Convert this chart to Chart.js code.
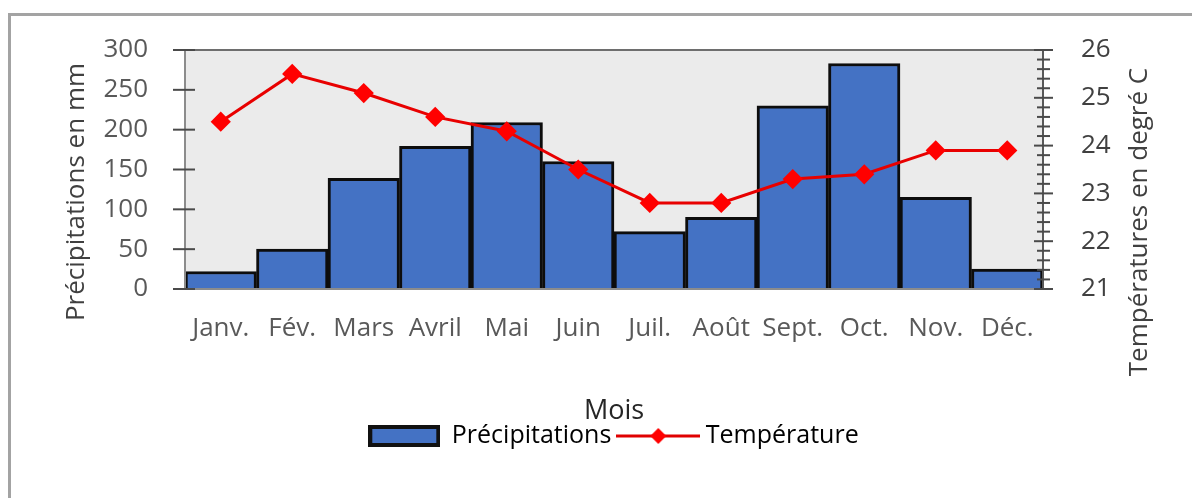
<!DOCTYPE html>
<html>
<head>
<meta charset="utf-8">
<script src="https://cdn.jsdelivr.net/npm/chart.js@4.4.1/dist/chart.umd.min.js"></script>
<style>
  body { margin: 0; background: #fff; overflow: hidden; }
  #wrap { position: relative; width: 1192px; height: 498px; }
  #frame { position: absolute; left: 8px; top: 13px; width: 1200px; height: 500px; border: 3px solid #a3a3a3; }
  #graph { position: absolute; left: 0; top: 0; }
</style>
</head>
<body>
<div id="wrap">
  <div id="frame"></div>
  <canvas id="graph" width="1192" height="498"></canvas>
</div>
<script>
const mois = ['Janv.', 'Fév.', 'Mars', 'Avril', 'Mai', 'Juin', 'Juil.', 'Août', 'Sept.', 'Oct.', 'Nov.', 'Déc.'];
const precipitations = [22, 50, 139, 179, 209, 160, 72, 90, 230, 283, 115, 25];
const temperatures = [24.5, 25.5, 25.1, 24.6, 24.3, 23.5, 22.8, 22.8, 23.3, 23.4, 23.9, 23.9];

const bleu = '#4472c4';
const rouge = '#ff0000';

// petites images pour la légende
function iconeBarre() {
    const c = document.createElement('canvas');
    c.width = 72; c.height = 22;
    const g = c.getContext('2d');
    g.fillStyle = bleu;
    g.fillRect(2, 2, 68, 18);
    g.strokeStyle = '#111';
    g.lineWidth = 4;
    g.strokeRect(2, 2, 68, 18);
    return c;
}
function iconeLigne() {
    const c = document.createElement('canvas');
    c.width = 84; c.height = 18;
    const g = c.getContext('2d');
    g.strokeStyle = '#e00000';
    g.lineWidth = 3;
    g.beginPath(); g.moveTo(0, 9); g.lineTo(84, 9); g.stroke();
    g.fillStyle = rouge;
    g.beginPath(); g.moveTo(42, 1); g.lineTo(50, 9); g.lineTo(42, 17); g.lineTo(34, 9); g.closePath(); g.fill();
    return c;
}

// fond gris, cadre, graduations et titres verticaux
const decor = {
    id: 'decor',
    beforeDatasetsDraw(chart) {
        const {ctx, chartArea: a} = chart;
        ctx.save();
        ctx.fillStyle = '#ebebeb';
        ctx.fillRect(a.left, a.top, a.right - a.left, a.bottom - a.top);
        ctx.restore();
    },
    afterDatasetsDraw(chart) {
        const {ctx, chartArea: a, scales} = chart;
        const y = scales.y, y1 = scales.y1;
        ctx.save();
        ctx.lineWidth = 2;
        ctx.strokeStyle = '#6e6e6e';
        ctx.beginPath(); ctx.moveTo(a.left - 12, a.top); ctx.lineTo(a.right + 10, a.top); ctx.stroke();
        ctx.strokeStyle = '#8c8c8c';
        ctx.beginPath(); ctx.moveTo(a.left - 12, a.bottom); ctx.lineTo(a.right + 10, a.bottom); ctx.stroke();
        ctx.beginPath(); ctx.moveTo(a.left, a.top); ctx.lineTo(a.left, a.bottom); ctx.stroke();
        ctx.strokeStyle = '#595959';
        ctx.beginPath(); ctx.moveTo(a.right, a.top); ctx.lineTo(a.right, a.bottom); ctx.stroke();

        ctx.strokeStyle = '#4a4a4a';
        y.ticks.forEach(t => {
            const py = y.getPixelForValue(t.value);
            ctx.beginPath(); ctx.moveTo(a.left - 12, py); ctx.lineTo(a.left + 10, py); ctx.stroke();
        });
        for (let i = 0; i <= 25; i++) {
            const v = y1.min + i * 0.2;
            const py = y1.getPixelForValue(v);
            const major = i % 5 === 0;
            ctx.beginPath();
            ctx.moveTo(a.right - (major ? 9 : 6), py);
            ctx.lineTo(a.right + (major ? 10 : 7), py);
            ctx.stroke();
        }

        ctx.fillStyle = '#404040';
        ctx.font = "26px 'Open Sans', sans-serif";
        ctx.textAlign = 'center';
        ctx.textBaseline = 'middle';
        ctx.translate(77, 192);
        ctx.rotate(-Math.PI / 2);
        ctx.fillText('Précipitations en mm', 0, 0);
        ctx.setTransform(1, 0, 0, 1, 0, 0);
        ctx.translate(1140, 222);
        ctx.rotate(-Math.PI / 2);
        ctx.fillText('Températures en degré C', 0, 0);
        ctx.restore();
    }
};

Chart.defaults.font.family = "'Open Sans', sans-serif";
Chart.defaults.color = '#595959';

const ctx = document.getElementById('graph').getContext('2d');
new Chart(ctx, {
    data: {
        labels: mois,
        datasets: [{
            type: 'line',
            label: 'Température',
            data: temperatures,
            yAxisID: 'y1',
            borderColor: '#e80000',
            backgroundColor: rouge,
            borderWidth: 3,
            pointStyle: 'rectRot',
            pointRadius: 8,
            pointBackgroundColor: rouge,
            pointBorderColor: rouge,
            tension: 0,
            order: 0
        }, {
            type: 'bar',
            label: 'Précipitations',
            data: precipitations,
            yAxisID: 'y',
            backgroundColor: bleu,
            borderColor: '#0d0d0d',
            borderWidth: 3,
            barPercentage: 1,
            categoryPercentage: 1,
            order: 1
        }]
    },
    options: {
        responsive: false,
        animation: false,
        devicePixelRatio: 1,
        layout: {
            padding: {top: 50, bottom: 39.5, left: 0, right: 0}
        },
        plugins: {
            tooltip: {enabled: false},
            legend: {
                position: 'bottom',
                fullSize: false,
                labels: {
                    usePointStyle: true,
                    pointStyleWidth: 70,
                    padding: 12,
                    color: '#595959',
                    font: {size: 25},
                    generateLabels: () => [
                        {text: 'Précipitations', pointStyle: iconeBarre(), fillStyle: bleu, strokeStyle: '#111', lineWidth: 0, datasetIndex: 1, hidden: false},
                        {text: 'Température', pointStyle: iconeLigne(), fillStyle: rouge, strokeStyle: rouge, lineWidth: 0, datasetIndex: 0, hidden: false}
                    ]
                }
            }
        },
        scales: {
            x: {
                grid: {display: false},
                border: {display: false},
                ticks: {font: {size: 26}, padding: 16, autoSkip: false, maxRotation: 0},
                title: {display: true, text: 'Mois', color: '#262626', font: {size: 27, lineHeight: 1}, padding: {top: 0, bottom: -13}},
                afterFit: s => { s.height = 122.5; }
            },
            y: {
                position: 'left',
                min: 0,
                max: 300,
                grid: {display: false},
                border: {display: false},
                ticks: {stepSize: 50, font: {size: 26}, padding: 29},
                afterFit: s => { s.width = 185; }
            },
            y1: {
                position: 'right',
                min: 21,
                max: 26,
                grid: {display: false},
                border: {display: false},
                ticks: {stepSize: 1, font: {size: 26}, padding: 30, color: '#404040'},
                afterFit: s => { s.width = 149; }
            }
        }
    },
    plugins: [decor]
});
</script>
</body>
</html>
